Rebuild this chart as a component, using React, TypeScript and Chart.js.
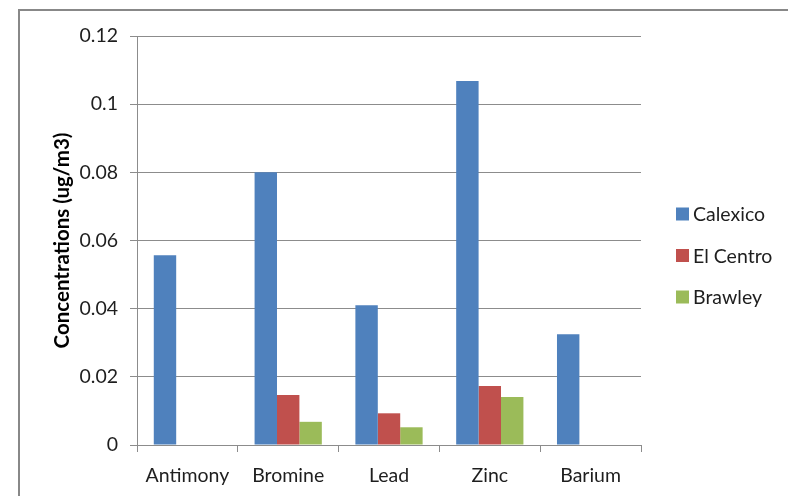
import React, { useEffect, useRef } from "react";
import { Chart, registerables } from "chart.js";

Chart.register(...registerables);

const elements = ["Antimony", "Bromine", "Lead", "Zinc", "Barium"];
const calexico = [0.0557, 0.08, 0.041, 0.1068, 0.0325];
const elCentro = [null, 0.0147, 0.0093, 0.0173, null];
const brawley = [null, 0.0068, 0.0052, 0.0141, null];
const yTicks = [0, 0.02, 0.04, 0.06, 0.08, 0.1, 0.12];

const FONT = "Lato, 'Open Sans', sans-serif";
const GRID = "#8c8c8c";
const TEXT = "#1e1e1e";

// Legend drawn to the right of the plot, one row per site
const sideLegend = {
  id: "sideLegend",
  afterDraw(chart: any) {
    const { ctx } = chart;
    const rows = chart.data.datasets;
    const x = 676;
    const top = 214;
    const step = 41.5;
    ctx.save();
    ctx.font = `19.5px ${FONT}`;
    ctx.textBaseline = "middle";
    ctx.textAlign = "left";
    rows.forEach((ds: any, i: number) => {
      const cy = top + i * step;
      ctx.fillStyle = ds.backgroundColor;
      ctx.fillRect(x, cy - 6.5, 13, 13);
      ctx.fillStyle = TEXT;
      ctx.fillText(ds.label, x + 17, cy + 1);
    });
    ctx.restore();
  },
};

export default function App() {
  const ref = useRef<HTMLCanvasElement | null>(null);

  useEffect(() => {
    if (!ref.current) return;
    const chart = new Chart(ref.current, {
      type: "bar",
      data: {
        labels: elements,
        datasets: [
          { label: "Calexico", data: calexico, backgroundColor: "#4f81bd" },
          { label: "El Centro", data: elCentro, backgroundColor: "#c0504d" },
          { label: "Brawley", data: brawley, backgroundColor: "#9bbb59" },
        ],
      },
      plugins: [sideLegend],
      options: {
        responsive: false,
        animation: false,
        devicePixelRatio: 1,
        layout: { padding: { top: 36, right: 147, bottom: 0, left: 0 } },
        datasets: {
          bar: { barPercentage: 1, categoryPercentage: 0.667, borderWidth: 0 },
        },
        plugins: {
          legend: { display: false },
          tooltip: { enabled: false },
        },
        scales: {
          x: {
            grid: {
              display: true,
              drawOnChartArea: false,
              drawTicks: true,
              tickLength: 7,
              color: GRID,
              offset: true,
            },
            border: { display: true, color: GRID, width: 1 },
            ticks: {
              color: TEXT,
              font: { family: FONT, size: 19.5 },
              padding: 12,
              maxRotation: 0,
            },
            afterFit: (scale: any) => {
              scale.height = 51;
            },
          },
          y: {
            min: 0,
            max: 0.12,
            afterBuildTicks: (scale: any) => {
              scale.ticks = yTicks.map((v) => ({ value: v }));
            },
            grid: {
              color: GRID,
              lineWidth: 1,
              drawTicks: true,
              tickLength: 7,
            },
            border: { display: true, color: GRID, width: 1 },
            ticks: {
              color: TEXT,
              font: { family: FONT, size: 19.5 },
              padding: 12,
              callback: (v: any) => String(Number(v)),
            },
            title: {
              display: true,
              text: "Concentrations (ug/m3)",
              color: "#000",
              font: { family: FONT, size: 20.5, weight: "bold" },
              padding: { top: 50, bottom: 0 },
            },
            afterFit: (scale: any) => {
              scale.width = 137;
            },
          },
        },
      },
    });
    return () => chart.destroy();
  }, []);

  return (
    <div
      style={{
        position: "fixed",
        left: 0,
        top: 0,
        width: 788,
        height: 496,
        overflow: "hidden",
        background: "#fff",
      }}
    >
      <div
        style={{
          position: "absolute",
          left: 18,
          top: 9,
          width: 900,
          height: 600,
          border: "2px solid #888",
          boxSizing: "border-box",
        }}
      />
      <canvas
        ref={ref}
        width={788}
        height={496}
        style={{ position: "absolute", left: 0, top: 0 }}
      />
    </div>
  );
}
